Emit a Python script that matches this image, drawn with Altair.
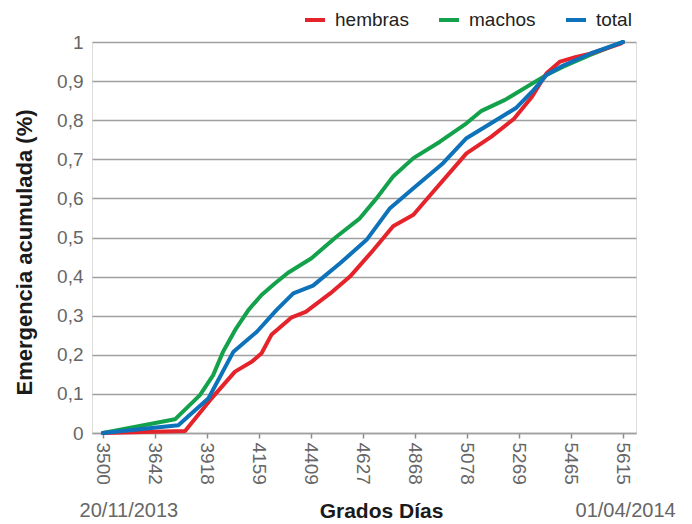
import json
import altair as alt
import pandas as pd

# Tick labels of the x axis (Grados Días), evenly spaced by position index
x_labels = ["3500", "3642", "3918", "4159", "4409", "4627", "4868", "5078", "5269", "5465", "5615"]

# Series (x = position along the evenly spaced axis, y = cumulative emergence)
hembras_x = [0, 1.58, 2.06, 2.54, 2.86, 3.05, 3.24, 3.63, 3.9, 4.37, 4.75, 5.20, 5.58, 5.97, 6.35, 6.99, 7.47, 7.90, 8.25, 8.53, 8.79, 9.10, 9.37, 9.94, 10]
hembras_y = [0, 0.005, 0.084, 0.157, 0.182, 0.204, 0.251, 0.296, 0.31, 0.357, 0.40, 0.468, 0.529, 0.558, 0.617, 0.715, 0.758, 0.803, 0.86, 0.92, 0.95, 0.962, 0.97, 0.995, 1.0]

machos_x = [0, 1.385, 1.865, 2.12, 2.31, 2.54, 2.80, 3.05, 3.31, 3.56, 4.01, 4.49, 4.94, 5.26, 5.58, 5.97, 6.48, 6.99, 7.28, 7.73, 7.96, 8.53, 8.85, 9.37, 10]
machos_y = [0, 0.035, 0.097, 0.148, 0.208, 0.263, 0.315, 0.353, 0.383, 0.41, 0.447, 0.502, 0.549, 0.60, 0.656, 0.703, 0.745, 0.792, 0.824, 0.852, 0.87, 0.916, 0.937, 0.967, 1.0]

total_x = [0, 1.45, 2.03, 2.51, 2.96, 3.34, 3.66, 4.04, 4.56, 5.07, 5.52, 5.97, 6.54, 6.99, 7.51, 7.95, 8.28, 8.53, 8.85, 9.37, 10]
total_y = [0, 0.02, 0.089, 0.208, 0.259, 0.315, 0.357, 0.377, 0.434, 0.494, 0.575, 0.626, 0.69, 0.754, 0.796, 0.832, 0.877, 0.916, 0.94, 0.97, 1.0]

series_names = ["hembras", "machos", "total"]
series_colors = ["#e5232b", "#13a24b", "#0d72ba"]
y_ticks = [0, 0.1, 0.2, 0.3, 0.4, 0.5, 0.6, 0.7, 0.8, 0.9, 1.0]

# Date annotations at the ends of the axis
date_text = ["20/11/2013", "01/04/2014"]
date_pos = [0.5, 10.05]

def frame(name, xs, ys):
    return pd.DataFrame({"pos": xs, "valor": ys, "serie": name})

df_h = frame("hembras", hembras_x, hembras_y)
df_m = frame("machos", machos_x, machos_y)
df_t = frame("total", total_x, total_y)
df_dates = pd.DataFrame({"pos": date_pos, "texto": date_text})

FONT = "Liberation Sans"
label_expr_x = json.dumps(x_labels) + "[round(datum.value)]"
label_expr_y = ("abs(datum.value) < 1e-9 ? '0' : abs(datum.value - 1) < 1e-9 ? '1' : "
                "replace(format(datum.value, '.1f'), '.', ',')")

x_enc = alt.X(
    "pos:Q",
    scale=alt.Scale(domain=[-0.21, 10.25], nice=False, zero=False),
    axis=alt.Axis(
        values=list(range(len(x_labels))),
        labelExpr=label_expr_x,
        labelAngle=90,
        labelAlign="left",
        labelBaseline="middle",
        labelFont=FONT,
        labelFontSize=19,
        labelColor="#666666",
        labelPadding=4,
        grid=False,
        ticks=True,
        tickSize=5,
        tickColor="#8c8c8c",
        tickWidth=1.5,
        domain=True,
        domainColor="#a0a0a0",
        domainWidth=1.5,
        title="Grados Días",
        titleFont=FONT,
        titleFontSize=21,
        titleFontWeight="bold",
        titleColor="#1a1a1a",
        titleX=289,
        titleY=84,
        titleBaseline="alphabetic",
        titleAlign="center",
    ),
)

y_enc = alt.Y(
    "valor:Q",
    scale=alt.Scale(domain=[0, 1], nice=False),
    axis=alt.Axis(
        values=y_ticks,
        labelExpr=label_expr_y,
        labelFont=FONT,
        labelFontSize=19,
        labelColor="#666666",
        labelPadding=9,
        ticks=False,
        domain=False,
        grid=True,
        gridColor="#a0a0a0",
        gridWidth=1.5,
        title="Emergencia acumulada (%)",
        titleFont=FONT,
        titleFontSize=22,
        titleFontWeight="bold",
        titleColor="#1a1a1a",
        titleAngle=270,
        titleX=-68,
        titleY=210,
        titleAlign="center",
        titleBaseline="middle",
    ),
)

color_enc = alt.Color(
    "serie:N",
    scale=alt.Scale(domain=series_names, range=series_colors),
    legend=alt.Legend(
        title=None,
        orient="none",
        legendX=211,
        legendY=-34,
        direction="horizontal",
        symbolType="stroke",
        symbolStrokeWidth=4,
        symbolSize=400,
        labelOffset=8,
        columnPadding=22,
        labelFont=FONT,
        labelFontSize=19,
        labelColor="#222222",
    ),
)

def line(df):
    return alt.Chart(df).mark_line(strokeWidth=4, strokeCap="round", strokeJoin="round").encode(
        x=x_enc, y=y_enc, color=color_enc
    )

dates = alt.Chart(df_dates).mark_text(
    font=FONT, fontSize=20, color="#666666", align="center", baseline="middle"
).encode(x=alt.X("pos:Q"), y=alt.value(469), text="texto:N")

chart = alt.layer(line(df_m), line(df_h), line(df_t), dates).properties(
    width=544,
    height=391,
    autosize=alt.AutoSizeParams(type="none"),
    padding={"left": 84, "top": 34, "right": 48, "bottom": 90},
).configure_view(stroke=None).configure(background="white")

chart.save("out.html", embed_options={"renderer": "svg", "actions": False})
